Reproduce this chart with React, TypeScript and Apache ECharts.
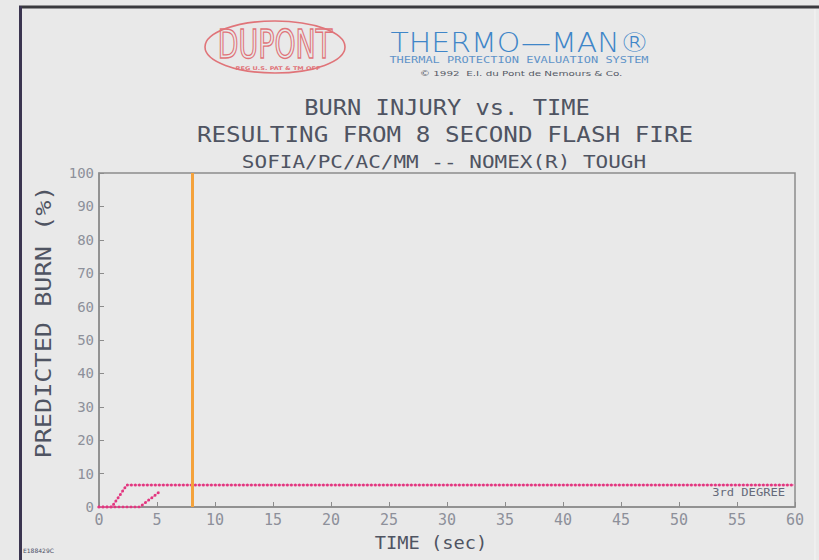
import React, { useEffect, useRef } from "react";
import * as echarts from "echarts";

// ---- data ----
const curveUpperTime = [0, 1.1, 2.4, 60];
const curveUpperBurn = [0, 0, 6.6, 6.6];
const curveLowerTime = [0, 3.5, 5.2];
const curveLowerBurn = [0, 0, 4.5];
const flashSeconds = 8;
const xMin = 0, xMax = 60, xStep = 5;
const yMin = 0, yMax = 100, yStep = 10;

const titleLines = [
  "BURN INJURY vs. TIME",
  "RESULTING FROM 8 SECOND FLASH FIRE",
  "SOFIA/PC/AC/MM -- NOMEX(R) TOUGH",
];
const xName = "TIME (sec)";
const yName = "PREDICTED BURN (%)";
const degreeLabel = "3rd DEGREE";

const MONO = "'DejaVu Sans Mono', 'Liberation Mono', monospace";
const INK = "#4f5462";
const PINK = "#e2367f";

function pairs(xs: number[], ys: number[]) {
  return xs.map((x, i) => [x, ys[i]]);
}

export default function App() {
  const ref = useRef<HTMLDivElement>(null);
  useEffect(() => {
    if (!ref.current) return;
    const chart = echarts.init(ref.current, undefined, { renderer: "svg" });
    const upper = pairs(curveUpperTime, curveUpperBurn);
    const lower = pairs(curveLowerTime, curveLowerBurn);
    const dotted = {
      color: PINK,
      width: 3,
      type: [0, 4] as any,
      cap: "round" as any,
    };
    const thin = { color: "#ee86b4", width: 1, type: "solid" as any };
    const option: any = {
      animation: false,
      backgroundColor: "#e9e9e9",
      grid: {
        left: 99,
        top: 173,
        right: 24,
        bottom: 53,
        show: true,
        borderColor: "#8c8c8c",
        borderWidth: 1.5,
        backgroundColor: "transparent",
      },
      xAxis: {
        type: "value",
        min: xMin,
        max: xMax,
        interval: xStep,
        axisLine: { show: true, lineStyle: { color: "#8c8c8c", width: 1.5 } },
        axisTick: { show: true, inside: true, length: 5, lineStyle: { color: "#8c8c8c" } },
        axisLabel: { fontFamily: MONO, fontSize: 15, color: "#8d909a", margin: 5 },
        splitLine: { show: false },
      },
      yAxis: {
        type: "value",
        min: yMin,
        max: yMax,
        interval: yStep,
        axisLine: { show: true, lineStyle: { color: "#8c8c8c", width: 1.5 } },
        axisTick: { show: true, inside: true, length: 5, lineStyle: { color: "#8c8c8c" } },
        axisLabel: { fontFamily: MONO, fontSize: 14, color: "#8d909a", margin: 5 },
        splitLine: { show: false },
      },
      series: [
        { type: "line", data: upper, showSymbol: false, lineStyle: thin, z: 2 },
        { type: "line", data: lower, showSymbol: false, lineStyle: thin, z: 2 },
        {
          type: "line",
          data: upper,
          showSymbol: false,
          lineStyle: dotted,
          z: 3,
          markLine: {
            silent: true,
            symbol: "none",
            label: { show: false },
            lineStyle: { color: "#f4a23c", width: 3, type: "solid" },
            data: [{ xAxis: flashSeconds }],
            z: 5,
          },
        },
        { type: "line", data: lower, showSymbol: false, lineStyle: dotted, z: 3 },
      ],
      graphic: [
        // outer frame
        { type: "line", shape: { x1: 19, y1: 7, x2: 819, y2: 7 }, style: { stroke: "#3a3a3e", lineWidth: 3 } },
        { type: "line", shape: { x1: 20.5, y1: 6, x2: 20.5, y2: 560 }, style: { stroke: "#3b3550", lineWidth: 3 } },
        { type: "line", shape: { x1: 815, y1: 9, x2: 815, y2: 560 }, style: { stroke: "#f4f4f4", lineWidth: 1 } },
        // DuPont oval logo
        {
          type: "ellipse",
          shape: { cx: 275, cy: 47, rx: 70, ry: 26 },
          style: { fill: "none", stroke: "#e07479", lineWidth: 1.6 },
        },
        {
          type: "text",
          x: 275,
          y: 45,
          scaleX: 1.15,
          scaleY: 1.5,
          style: {
            text: "DUPONT",
            font: "normal 26px 'DejaVu Sans Condensed', 'DejaVu Sans', sans-serif",
            fill: "none",
            stroke: "#e07479",
            lineWidth: 0.9,
            align: "center",
            verticalAlign: "middle",
          },
        },
        {
          type: "text",
          x: 278,
          y: 68,
          scaleX: 1.3,
          style: {
            text: "REG U.S. PAT & TM OFF",
            font: "bold 5px 'DejaVu Sans', sans-serif",
            fill: "#e07479",
            align: "center",
            verticalAlign: "middle",
          },
        },
        // THERMO-MAN
        {
          type: "text",
          x: 520,
          y: 43,
          scaleX: 1.15,
          style: {
            text: "THERMO\u2014MAN\u00ae",
            font: "200 26px 'DejaVu Sans', sans-serif",
            fill: "#3f86c8",
            align: "center",
            verticalAlign: "middle",
          },
        },
        {
          type: "text",
          x: 519,
          y: 60,
          scaleX: 1.33,
          style: {
            text: "THERMAL PROTECTION EVALUATION SYSTEM",
            font: "normal 9px " + MONO,
            fill: "#5f93c8",
            align: "center",
            verticalAlign: "middle",
          },
        },
        {
          type: "text",
          x: 521,
          y: 74,
          scaleX: 1.48,
          style: {
            text: "\u00a9 1992  E.I. du Pont de Nemours & Co.",
            font: "normal 7px 'DejaVu Sans', sans-serif",
            fill: "#555a66",
            align: "center",
            verticalAlign: "middle",
          },
        },
        // titles
        {
          type: "text",
          x: 447,
          y: 108,
          scaleX: 1.13,
          style: { text: titleLines[0], font: "normal 21px " + MONO, fill: INK, align: "center", verticalAlign: "middle" },
        },
        {
          type: "text",
          x: 445,
          y: 135,
          scaleX: 1.155,
          style: { text: titleLines[1], font: "normal 21px " + MONO, fill: INK, align: "center", verticalAlign: "middle" },
        },
        {
          type: "text",
          x: 444,
          y: 162,
          scaleX: 1.166,
          style: { text: titleLines[2], font: "normal 18px " + MONO, fill: INK, align: "center", verticalAlign: "middle" },
        },
        // axis names
        {
          type: "text",
          x: 43,
          y: 322,
          rotation: Math.PI / 2,
          scaleX: 1.2,
          style: { text: yName, font: "normal 21px " + MONO, fill: INK, align: "center", verticalAlign: "middle" },
        },
        {
          type: "text",
          x: 431,
          y: 543,
          scaleX: 1.1,
          style: { text: xName, font: "normal 17px " + MONO, fill: INK, align: "center", verticalAlign: "middle" },
        },
        // curve label
        {
          type: "text",
          x: 785,
          y: 492,
          scaleX: 1.1,
          style: { text: degreeLabel, font: "normal 11px " + MONO, fill: "#656a7a", align: "right", verticalAlign: "middle" },
        },
        // bottom-left code
        {
          type: "text",
          x: 23,
          y: 550,
          style: { text: "E188429C", font: "normal 6px 'DejaVu Sans', sans-serif", fill: "#4b4f66", align: "left", verticalAlign: "middle" },
        },
      ],
    };
    chart.setOption(option);
    return () => chart.dispose();
  }, []);
  return (
    <div
      ref={ref}
      style={{ position: "fixed", left: 0, top: 0, width: 819, height: 560 }}
    />
  );
}
